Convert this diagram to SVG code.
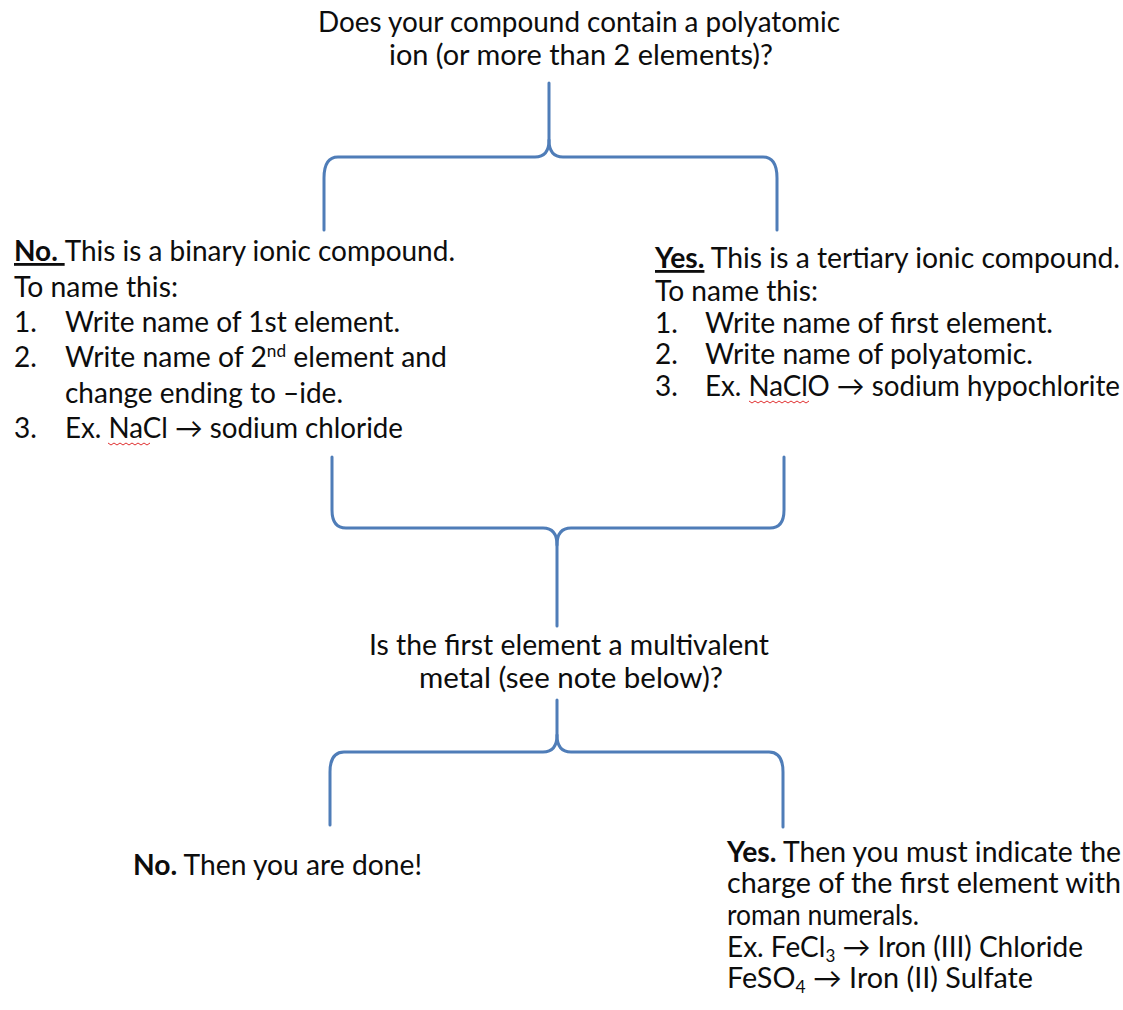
<svg xmlns="http://www.w3.org/2000/svg" width="1123" height="1010" viewBox="0 0 1123 1010">
<style>
  text { font-family: Lato, "Open Sans", "Liberation Sans", sans-serif; font-size: 28px; fill: #0d0d0d; }
  .b { font-weight: bold; }
  .u { text-decoration: underline; }
  .brace { fill: none; stroke: #4f7db8; stroke-width: 3; stroke-linecap: round; stroke-linejoin: round; }
  .squig { fill: none; stroke: #e03030; stroke-width: 1; }
  .sup { font-size: 17px; }
</style>
<rect width="1123" height="1010" fill="#ffffff"/>

<g id="connectors">
  <path class="brace" d="M549,83 L549,140 Q549,157 535,157 L338,157 Q324,157 324,178 L324,230"/>
  <path class="brace" d="M549,140 Q549,157 563,157 L763,157 Q777,157 777,178 L777,230"/>
  <path class="brace" d="M332,457 L332,510 Q332,528 346,528 L543,528 Q557,528 557,545 L557,626"/>
  <path class="brace" d="M784,457 L784,510 Q784,528 770,528 L571,528 Q557,528 557,545"/>
  <path class="brace" d="M557,700 L557,735 Q557,752 543,752 L344,752 Q330,752 330,772 L330,825"/>
  <path class="brace" d="M557,735 Q557,752 571,752 L769,752 Q783,752 783,772 L783,827"/>
</g>

<g id="q1">
  <text x="579" y="32" text-anchor="middle" textLength="522" lengthAdjust="spacingAndGlyphs">Does your compound contain a polyatomic</text>
  <text x="581" y="65" text-anchor="middle" textLength="384" lengthAdjust="spacingAndGlyphs">ion (or more than 2 elements)?</text>
</g>

<g id="binary">
  <text x="14" y="261" textLength="441" lengthAdjust="spacingAndGlyphs"><tspan class="b u">No. </tspan>This is a binary ionic compound.</text>
  <text x="14" y="297" textLength="164" lengthAdjust="spacingAndGlyphs">To name this:</text>
  <text x="14" y="332">1.</text>
  <text x="65" y="332" textLength="335" lengthAdjust="spacingAndGlyphs">Write name of 1st element.</text>
  <text x="14" y="367">2.</text>
  <text x="65" y="367" textLength="382" lengthAdjust="spacingAndGlyphs">Write name of 2<tspan class="sup" baseline-shift="super">nd</tspan> element and</text>
  <text x="65" y="403" textLength="278" lengthAdjust="spacingAndGlyphs">change ending to –ide.</text>
  <text x="14" y="438">3.</text>
  <text x="65" y="438" textLength="338" lengthAdjust="spacingAndGlyphs">Ex. NaCl → sodium chloride</text>
  <path class="squig" d="M108,443 l3,2 l3,-2 l3,2 l3,-2 l3,2 l3,-2 l3,2 l3,-2 l3,2 l3,-2 l3,2 l3,-2 l3,2 l3,-2"/>
</g>

<g id="tertiary">
  <text x="655" y="268" textLength="465" lengthAdjust="spacingAndGlyphs"><tspan class="b u">Yes.</tspan> This is a tertiary ionic compound.</text>
  <text x="655" y="301" textLength="163" lengthAdjust="spacingAndGlyphs">To name this:</text>
  <text x="655" y="333">1.</text>
  <text x="705" y="333" textLength="348" lengthAdjust="spacingAndGlyphs">Write name of first element.</text>
  <text x="655" y="364">2.</text>
  <text x="705" y="364" textLength="328" lengthAdjust="spacingAndGlyphs">Write name of polyatomic.</text>
  <text x="655" y="396">3.</text>
  <text x="705" y="396" textLength="415" lengthAdjust="spacingAndGlyphs">Ex. NaClO → sodium hypochlorite</text>
  <path class="squig" d="M749,401 l3,2 l3,-2 l3,2 l3,-2 l3,2 l3,-2 l3,2 l3,-2 l3,2 l3,-2 l3,2 l3,-2 l3,2 l3,-2 l3,2 l3,-2 l3,2 l3,-2 l3,2 l3,-2"/>
</g>

<g id="q2">
  <text x="569" y="655" text-anchor="middle" textLength="400" lengthAdjust="spacingAndGlyphs">Is the first element a multivalent</text>
  <text x="571" y="688" text-anchor="middle" textLength="304" lengthAdjust="spacingAndGlyphs">metal (see note below)?</text>
</g>

<g id="done">
  <text x="133" y="875" textLength="289" lengthAdjust="spacingAndGlyphs"><tspan class="b">No.</tspan> Then you are done!</text>
</g>

<g id="roman">
  <text x="727" y="862" textLength="394" lengthAdjust="spacingAndGlyphs"><tspan class="b">Yes.</tspan> Then you must indicate the</text>
  <text x="727" y="893" textLength="394" lengthAdjust="spacingAndGlyphs">charge of the first element with</text>
  <text x="727" y="925" textLength="192" lengthAdjust="spacingAndGlyphs">roman numerals.</text>
  <text x="727" y="957" textLength="356" lengthAdjust="spacingAndGlyphs">Ex. FeCl<tspan class="sup" baseline-shift="-5">3</tspan> → Iron (III) Chloride</text>
  <text x="727" y="988" textLength="306" lengthAdjust="spacingAndGlyphs">FeSO<tspan class="sup" baseline-shift="-5">4</tspan> → Iron (II) Sulfate</text>
</g>
</svg>
